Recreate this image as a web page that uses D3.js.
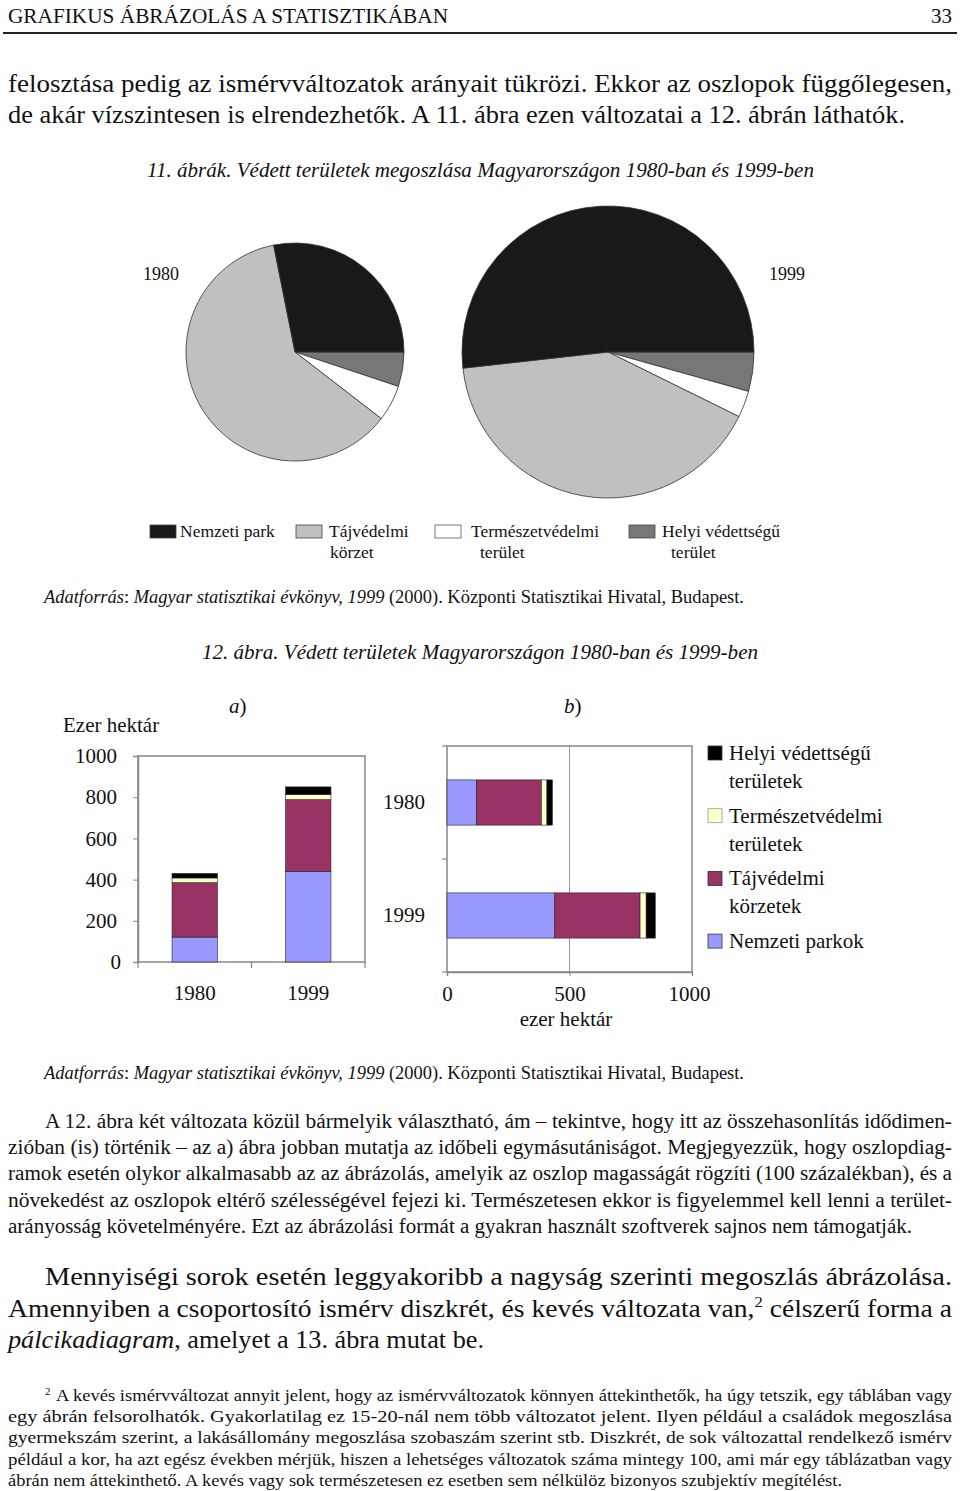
<!DOCTYPE html>
<html>
<head>
<meta charset="utf-8">
<script src="https://cdn.jsdelivr.net/npm/d3@7"></script>
<style>
  body { margin: 0; background: #fff; }
  svg { display: block; }
  text { font-family: "Liberation Serif", "Times New Roman", serif; fill: #111; }
</style>
</head>
<body>
<svg id="page" width="960" height="1491"></svg>
<script>
// ---- data (ezer hektár) ----
const years = ["1980", "1999"];
const nemzetiPark = [121, 440];
const tajvedelmi = [264, 348];
const termeszetvedelmi = [23, 25];
const helyi = [22, 37];
const yTicks = [0, 200, 400, 600, 800, 1000];
const xTicks = [0, 500, 1000];

const keys = ["nemzeti", "taj", "term", "helyi"];
const pieColors = {nemzeti: "#1b1819", taj: "#c0c0c0", term: "#ffffff", helyi: "#777777"};
const barColors = {nemzeti: "#9999ff", taj: "#993366", term: "#ffffcc", helyi: "#000000"};
const pieLegend = [
    {key: "nemzeti", lines: ["Nemzeti park"]},
    {key: "taj", lines: ["Tájvédelmi", "körzet"]},
    {key: "term", lines: ["Természetvédelmi", "terület"]},
    {key: "helyi", lines: ["Helyi védettségű", "terület"]}
];
const barLegend = [
    {key: "helyi", lines: ["Helyi védettségű", "területek"]},
    {key: "term", lines: ["Természetvédelmi", "területek"]},
    {key: "taj", lines: ["Tájvédelmi", "körzetek"]},
    {key: "nemzeti", lines: ["Nemzeti parkok"]}
];

const rows = years.map((y, i) => ({
    year: y, nemzeti: nemzetiPark[i], taj: tajvedelmi[i],
    term: termeszetvedelmi[i], helyi: helyi[i]
}));

// ---- page text ----
const para1 = [
    "felosztása pedig az ismérvváltozatok arányait tükrözi. Ekkor az oszlopok függőlegesen,",
    "de akár vízszintesen is elrendezhetők. A 11. ábra ezen változatai a 12. ábrán láthatók."
];
const para2 = [
    "A 12. ábra két változata közül bármelyik választható, ám – tekintve, hogy itt az összehasonlítás idődimen-",
    "zióban (is) történik – az a) ábra jobban mutatja az időbeli egymásutániságot. Megjegyezzük, hogy oszlopdiag-",
    "ramok esetén olykor alkalmasabb az az ábrázolás, amelyik az oszlop magasságát rögzíti (100 százalékban), és a",
    "növekedést az oszlopok eltérő szélességével fejezi ki. Természetesen ekkor is figyelemmel kell lenni a terület-",
    "arányosság követelményére. Ezt az ábrázolási formát a gyakran használt szoftverek sajnos nem támogatják."
];
const footnote = [
    "A kevés ismérvváltozat annyit jelent, hogy az ismérvváltozatok könnyen áttekinthetők, ha úgy tetszik, egy táblában vagy",
    "egy ábrán felsorolhatók. Gyakorlatilag ez 15-20-nál nem több változatot jelent. Ilyen például a családok megoszlása",
    "gyermekszám szerint, a lakásállomány megoszlása szobaszám szerint stb. Diszkrét, de sok változattal rendelkező ismérv",
    "például a kor, ha azt  egész években mérjük, hiszen a lehetséges változatok száma mintegy 100, ami már egy táblázatban vagy",
    "ábrán nem áttekinthető. A kevés vagy sok természetesen ez esetben sem nélkülöz bizonyos szubjektív megítélést."
];
const source = [["Adatforrás", true], [": ", false], ["Magyar statisztikai évkönyv, 1999", true],
    [" (2000). Központi Statisztikai Hivatal, Budapest.", false]];

const svg = d3.select("#page");

// one line of text, parts = [[string, italic, sup, unsup]], optional fixed width
function line(parts, x, y, size, width) {
    const t = svg.append("text").attr("x", x).attr("y", y).style("font-size", size + "px");
    if (typeof parts === "string") parts = [[parts, false]];
    parts.forEach(p => {
        const s = t.append("tspan").text(p[0]).style("font-style", p[1] ? "italic" : "normal");
        if (p[2]) s.style("font-size", (size * 0.6) + "px").attr("dy", -size * 0.38);
        else if (p[3]) s.attr("dy", size * 0.38);
    });
    if (width) t.attr("textLength", width).attr("lengthAdjust", "spacingAndGlyphs");
    return t;
}

// header
line("GRAFIKUS ÁBRÁZOLÁS A STATISZTIKÁBAN", 8, 23, 21, 440);
line("33", 952, 23, 21).attr("text-anchor", "end");
svg.append("line").attr("x1", 3).attr("x2", 957).attr("y1", 33).attr("y2", 33)
    .attr("stroke", "#222").attr("stroke-width", 2);

para1.forEach((s, i) => line(s, 8, 92 + i * 31, 26, i === 0 ? 944 : 897));

line([["11. ábrák. Védett területek megoszlása Magyarországon 1980-ban és 1999-ben", true]], 147, 177, 20, 667);

// ---- pies ----
const pie = d3.pie().sort(null).value(d => d.value)
    .startAngle(Math.PI / 2).endAngle(Math.PI / 2 + 2 * Math.PI);
const pieOrder = ["helyi", "term", "taj", "nemzeti"];
const pies = [{row: rows[0], cx: 295, cy: 352, r: 109}, {row: rows[1], cx: 608, cy: 352, r: 146}];
pies.forEach(p => {
    const g = svg.append("g").attr("transform", `translate(${p.cx},${p.cy})`);
    const arc = d3.arc().innerRadius(0).outerRadius(p.r);
    g.selectAll("path")
        .data(pie(pieOrder.map(k => ({key: k, value: p.row[k]}))))
        .join("path")
        .attr("d", arc)
        .attr("fill", d => pieColors[d.data.key])
        .attr("stroke", "#333")
        .attr("stroke-width", 0.8);
});
line("1980", 143, 280, 18);
line("1999", 769, 280, 18);

const pieLegX = [150, 296, 435, 629];
const pieTxtX = [[180], [329, 330], [471, 480], [662, 671]];
pieLegend.forEach((d, i) => {
    svg.append("rect").attr("x", pieLegX[i]).attr("y", 525).attr("width", 26).attr("height", 13)
        .attr("fill", pieColors[d.key]).attr("stroke", d.key === "term" ? "#555" : "#444")
        .attr("stroke-width", 0.8);
    d.lines.forEach((s, j) => line(s, pieTxtX[i][j], 537 + j * 21, 17.5));
});

line(source, 44, 603, 18, 700);
line([["12. ábra. Védett területek Magyarországon 1980-ban és 1999-ben", true]], 202, 659, 20, 556);

// ---- a) stacked columns ----
const stack = d3.stack().keys(keys)(rows);
const fs = 21;
const fmt = d3.format("d");

const ya = d3.scaleLinear().domain([0, 1000]).range([962, 756]);
const xa = d3.scaleBand().domain(years).range([138, 365]).paddingInner(0.6).paddingOuter(0.3);

const ga = svg.append("g");
ga.append("rect").attr("x", 138).attr("y", ya(1000)).attr("width", 227).attr("height", ya(0) - ya(1000))
    .attr("fill", "none").attr("stroke", "#888").attr("stroke-width", 1.5);
const axA = ga.append("g").attr("transform", "translate(138,0)")
    .call(d3.axisLeft(ya).tickValues(yTicks).tickFormat(fmt).tickSize(5).tickPadding(16));
axA.select(".domain").attr("stroke", "#888").attr("stroke-width", 1.5);
axA.selectAll(".tick line").attr("stroke", "#888");
axA.selectAll(".tick text").style("font-size", fs + "px").attr("fill", "#111")
    .style("font-family", "'Liberation Serif', serif");
axA.selectAll(".tick").filter(d => d === 0).select("text").attr("x", -17);
const bandsA = [0, 1, 2].map(i => 138 + i * xa.step());
ga.selectAll(".sep").data(bandsA).join("line").attr("class", "sep")
    .attr("x1", d => d).attr("x2", d => d).attr("y1", 962).attr("y2", 968)
    .attr("stroke", "#888").attr("stroke-width", 1.2);
stack.forEach(layer => {
    ga.selectAll(null).data(layer).join("rect")
        .attr("x", d => xa(d.data.year))
        .attr("width", xa.bandwidth())
        .attr("y", d => ya(d[1]))
        .attr("height", d => ya(d[0]) - ya(d[1]))
        .attr("fill", barColors[layer.key])
        .attr("stroke", "#222").attr("stroke-width", 0.6);
});
years.forEach(y => line(y, xa(y) + xa.bandwidth() / 2, 1000, fs).attr("text-anchor", "middle"));
line("Ezer hektár", 63, 732, fs);
line([["a", true], [")", false]], 229, 713, fs);

// ---- b) stacked bars ----
const xb = d3.scaleLinear().domain([0, 1000]).range([447, 692]);
const yb = d3.scaleBand().domain(years).range([746, 972]).paddingInner(0.6).paddingOuter(0.3);
const gb = svg.append("g");
gb.append("line").attr("x1", xb(500)).attr("x2", xb(500)).attr("y1", 746).attr("y2", 972)
    .attr("stroke", "#999").attr("stroke-width", 1);
gb.append("rect").attr("x", 447).attr("y", 746).attr("width", xb(1000) - 447).attr("height", 226)
    .attr("fill", "none").attr("stroke", "#888").attr("stroke-width", 1.5);
const axB = gb.append("g").attr("transform", "translate(0,972)")
    .call(d3.axisBottom(xb).tickValues(xTicks).tickFormat(fmt).tickSize(4).tickPadding(10));
axB.select(".domain").attr("stroke", "#888").attr("stroke-width", 1.5);
axB.selectAll(".tick line").attr("stroke", "#888");
axB.selectAll(".tick text").style("font-size", fs + "px").attr("fill", "#111")
    .style("font-family", "'Liberation Serif', serif");
axB.selectAll(".tick").filter(d => d === 1000).select("text").attr("x", -3);
const bandsB = [0, 1, 2].map(i => 746 + i * yb.step());
gb.selectAll(".sep").data(bandsB).join("line").attr("class", "sep")
    .attr("x1", 442).attr("x2", 447).attr("y1", d => d).attr("y2", d => d)
    .attr("stroke", "#888").attr("stroke-width", 1.2);
stack.forEach(layer => {
    gb.selectAll(null).data(layer).join("rect")
        .attr("y", d => yb(d.data.year))
        .attr("height", yb.bandwidth())
        .attr("x", d => xb(d[0]))
        .attr("width", d => xb(d[1]) - xb(d[0]))
        .attr("fill", barColors[layer.key])
        .attr("stroke", "#222").attr("stroke-width", 0.6);
});
years.forEach(y => line(y, 425, yb(y) + yb.bandwidth() / 2 + 6, fs).attr("text-anchor", "end"));
line("ezer hektár", 566, 1026, fs).attr("text-anchor", "middle");
line([["b", true], [")", false]], 564, 713, fs);

// legend for bars
barLegend.forEach((d, i) => {
    const y0 = 753 + i * 62.7;
    svg.append("rect").attr("x", 708).attr("y", y0 - 7).attr("width", 14).attr("height", 14)
        .attr("fill", barColors[d.key]).attr("stroke", d.key === "term" ? "#999" : "#333")
        .attr("stroke-width", 0.8);
    d.lines.forEach((s, j) => line(s, 729, y0 + 7 + j * 28, fs));
});

line(source, 44, 1079, 18, 700);

// ---- lower text ----
para2.forEach((s, i) => {
    const x = i === 0 ? 45 : 8;
    const w = i === para2.length - 1 ? 904 : 952 - x;
    line(s, x, 1128 + i * 26.2, 20, w);
});
line("Mennyiségi sorok esetén leggyakoribb a nagyság szerinti megoszlás ábrázolása.", 45, 1285, 26, 907);
line([["Amennyiben a csoportosító ismérv diszkrét, és kevés változata van,", false], ["2", false, true],
      [" célszerű forma a", false, false, true]], 8, 1317, 26, 944);
line([["pálcikadiagram", true], [", amelyet a 13. ábra mutat be.", false]], 8, 1348, 26, 476);

line("2", 45, 1395, 11);
footnote.forEach((s, i) => {
    const x = i === 0 ? 56 : 8;
    const w = i === footnote.length - 1 ? 834 : 952 - x;
    line(s, x, 1401 + i * 21.2, 17, w);
});
</script>
</body>
</html>
